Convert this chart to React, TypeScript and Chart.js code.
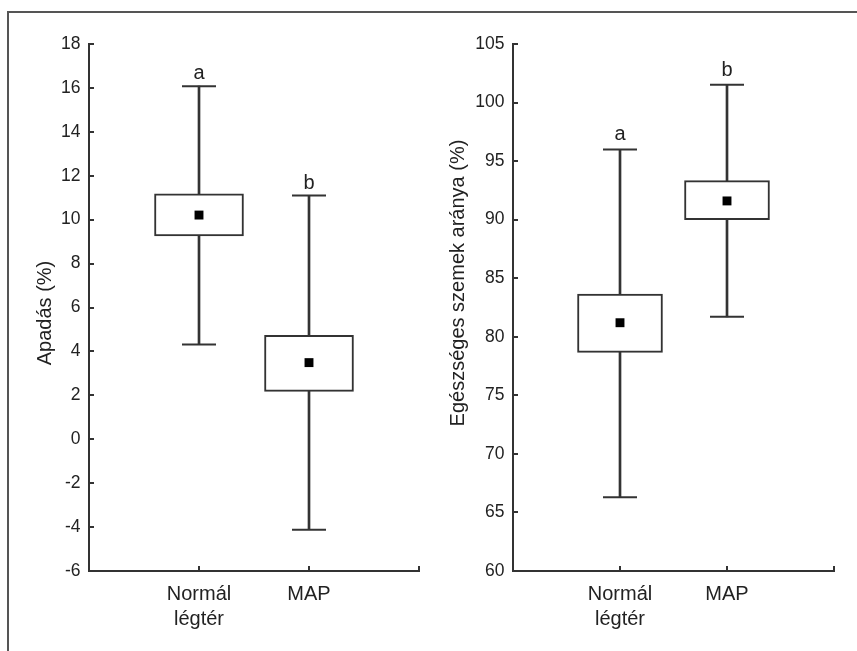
import React, { useEffect, useRef } from "react";
import { Chart, registerables } from "chart.js";
Chart.register(...registerables);

const FONT = "'Liberation Sans', Arial, sans-serif";

// categories
const categoryLabels = [["Normál", "légtér"], ["MAP"]];
const positions = [1, 2];

// left panel: Apadás (%)
const apadasMin = [4.32, -4.12];
const apadasQ1 = [9.26, 2.18];
const apadasMean = [10.21, 3.49];
const apadasQ3 = [11.18, 4.73];
const apadasMax = [16.08, 11.1];
const apadasLetters = ["a", "b"];
const apadasTicks = { min: -6, max: 18, step: 2 };

// right panel: Egészséges szemek aránya (%)
const egMin = [66.3, 81.7];
const egQ1 = [78.67, 90.0];
const egMean = [81.2, 91.6];
const egQ3 = [83.65, 93.33];
const egMax = [96.0, 101.53];
const egLetters = ["a", "b"];
const egTicks = { min: 60, max: 105, step: 5 };

type Panel = {
  title: string;
  min: number[];
  q1: number[];
  mean: number[];
  q3: number[];
  max: number[];
  letters: string[];
  ticks: { min: number; max: number; step: number };
  yWidth: number;
  padRight: number;
  boxPx: number;
  letterGap: number;
  titleX: number;
  titleY: number;
};

function makeConfig(p: Panel): any {
  const annot = {
    id: "annot",
    afterDatasetsDraw(chart: any) {
      const { ctx, scales } = chart;
      const xs = scales.x;
      const ys = scales.y;
      ctx.save();
      ctx.fillStyle = "#222";
      ctx.font = `20px ${FONT}`;
      ctx.textAlign = "center";
      ctx.textBaseline = "alphabetic";
      p.letters.forEach((l, i) => {
        ctx.fillText(l, xs.getPixelForValue(positions[i]), ys.getPixelForValue(p.max[i]) - p.letterGap);
      });
      ctx.translate(p.titleX, p.titleY);
      ctx.rotate(-Math.PI / 2);
      ctx.fillText(p.title, 0, 0);
      ctx.restore();
    },
  };
  const axisCommon = {
    grid: {
      display: true,
      drawOnChartArea: false,
      drawTicks: true,
      tickLength: -5,
      color: "#333",
      lineWidth: 2,
      offset: false,
    },
    border: { display: true, color: "#333", width: 2 },
  };
  return {
    type: "bar",
    data: {
      datasets: [
        {
          type: "scatter",
          label: "mean",
          data: positions.map((x, i) => ({ x, y: p.mean[i] })),
          pointStyle: "rect",
          pointRadius: 6.3,
          pointBackgroundColor: "#000",
          pointBorderWidth: 0,
          order: 0,
        },
        {
          type: "bar",
          label: "box",
          data: positions.map((x, i) => ({ x, y: [p.q1[i], p.q3[i]] })),
          backgroundColor: "#fff",
          borderColor: "#333",
          borderWidth: 2,
          borderSkipped: false,
          grouped: false,
          barPercentage: 1,
          categoryPercentage: 1,
          maxBarThickness: p.boxPx,
          order: 1,
        },
        {
          type: "bar",
          label: "whisker",
          data: positions.map((x, i) => ({ x, y: [p.min[i], p.max[i]] })),
          backgroundColor: "#333",
          borderWidth: 0,
          grouped: false,
          barPercentage: 1,
          categoryPercentage: 1,
          maxBarThickness: 2,
          order: 2,
        },
        {
          type: "scatter",
          label: "caps",
          data: [
            ...positions.map((x, i) => ({ x, y: p.min[i] })),
            ...positions.map((x, i) => ({ x, y: p.max[i] })),
          ],
          pointStyle: "line",
          pointRadius: 17,
          pointBorderColor: "#333",
          pointBorderWidth: 2,
          order: 3,
        },
      ],
    },
    options: {
      responsive: false,
      maintainAspectRatio: false,
      animation: false,
      events: [],
      layout: { autoPadding: false, padding: { left: 0, top: 44, right: p.padRight, bottom: 0 } },
      plugins: { legend: { display: false }, tooltip: { enabled: false }, title: { display: false } },
      scales: {
        x: {
          type: "linear",
          min: 0,
          max: 3,
          offset: false,
          ...axisCommon,
          ticks: {
            stepSize: 1,
            autoSkip: false,
            maxRotation: 0,
            padding: 15.5,
            color: "#222",
            font: { family: FONT, size: 20, lineHeight: 1.25 },
            callback: (v: number) => {
              const idx = positions.indexOf(v);
              return idx >= 0 ? categoryLabels[idx] : "";
            },
          },
          afterFit(scale: any) {
            scale.height = 80;
            scale.paddingLeft = 0;
            scale.paddingRight = 0;
          },
        },
        y: {
          type: "linear",
          min: p.ticks.min,
          max: p.ticks.max,
          stacked: false,
          ...axisCommon,
          ticks: {
            stepSize: p.ticks.step,
            padding: 13.5,
            color: "#222",
            font: { family: FONT, size: 17.5 },
          },
          afterFit(scale: any) {
            scale.width = p.yWidth;
          },
        },
      },
    },
    plugins: [annot],
  };
}

const leftPanel: Panel = {
  title: "Apadás (%)",
  min: apadasMin,
  q1: apadasQ1,
  mean: apadasMean,
  q3: apadasQ3,
  max: apadasMax,
  letters: apadasLetters,
  ticks: apadasTicks,
  yWidth: 89,
  padRight: 11,
  boxPx: 89,
  letterGap: 7,
  titleX: 51,
  titleY: 313,
};

const rightPanel: Panel = {
  title: "Egészséges szemek aránya (%)",
  min: egMin,
  q1: egQ1,
  mean: egMean,
  q3: egQ3,
  max: egMax,
  letters: egLetters,
  ticks: egTicks,
  yWidth: 83,
  padRight: 23,
  boxPx: 85,
  letterGap: 9,
  titleX: 34,
  titleY: 283,
};

function PanelChart({ panel, left, width }: { panel: Panel; left: number; width: number }) {
  const ref = useRef<HTMLCanvasElement | null>(null);
  useEffect(() => {
    if (!ref.current) return;
    const chart = new Chart(ref.current, makeConfig(panel));
    return () => chart.destroy();
  }, [panel]);
  return (
    <canvas
      ref={ref}
      width={width}
      height={651}
      style={{ position: "absolute", left, top: 0, width, height: 651 }}
    />
  );
}

export default function App() {
  return (
    <div
      style={{
        position: "absolute",
        left: 0,
        top: 0,
        width: 857,
        height: 651,
        overflow: "hidden",
        background: "#fff",
      }}
    >
      <div
        style={{
          position: "absolute",
          left: 7,
          top: 11,
          width: 1000,
          height: 1000,
          borderLeft: "2px solid #555",
          borderTop: "2px solid #555",
        }}
      />
      <PanelChart panel={leftPanel} left={0} width={430} />
      <PanelChart panel={rightPanel} left={430} width={427} />
    </div>
  );
}
